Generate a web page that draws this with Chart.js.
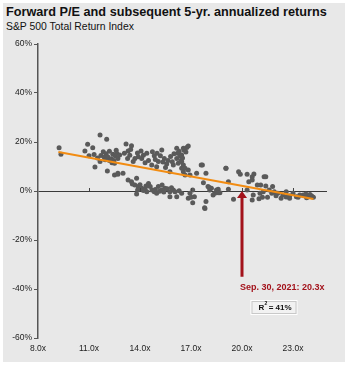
<!DOCTYPE html>
<html>
<head>
<meta charset="utf-8">
<script src="https://cdn.jsdelivr.net/npm/chart.js@4"></script>
<style>
    html, body { margin: 0; padding: 0; background: #ffffff; }
    #wrap { position: relative; width: 350px; height: 368px; }
    #panel { position: absolute; left: 3px; top: 3px; width: 342px; height: 359px; background: #e8e8e8; }
    #title { position: absolute; left: 6px; top: 5px; font: bold 12.7px "Liberation Sans", Arial, sans-serif; color: #111; white-space: nowrap; }
    #subtitle { position: absolute; left: 6px; top: 21px; font: 10.4px "Liberation Sans", Arial, sans-serif; color: #111; white-space: nowrap; }
    #chart { position: absolute; left: 0; top: 0; }
</style>
</head>
<body>
<div id="wrap">
    <div id="panel"></div>
    <div id="title">Forward P/E and subsequent 5-yr. annualized returns</div>
    <div id="subtitle">S&amp;P 500 Total Return Index</div>
    <canvas id="chart" width="350" height="368"></canvas>
</div>
<script>
// forward P/E (x) and subsequent 5-yr annualized return in % (y)
const forwardPE = [
    9.24, 9.35, 10.76, 10.92, 11.0, 11.22, 11.35, 11.65, 11.65, 11.84, 12.04, 12.08, 12.5, 12.7, 11.7, 11.9, 12.0, 12.1, 12.2, 12.3,
    12.4, 12.45, 12.55, 12.6, 11.5, 11.3, 12.35, 12.2, 11.95, 12.5, 12.7, 12.63, 12.8, 12.7, 13.0,
    13.18, 13.5, 13.3, 13.08, 13.27, 14.06, 13.9, 14.1, 13.7, 14.4, 14.73, 14.84, 14.69, 14.98, 15.28, 15.43, 15.57, 15.08, 16.16, 16.22,
    16.16, 16.25, 15.96, 16.45, 15.76, 16.55, 13.4, 13.6, 13.85, 14.2, 14.5, 14.9, 15.2, 15.35, 15.65, 15.8, 15.9, 16.0, 16.35, 13.45,
    14.3, 15.0, 16.4, 16.3, 15.5,
    16.75, 16.55, 16.84, 16.45, 16.45, 16.55, 16.65, 16.84, 16.94, 16.65, 17.33, 17.67, 17.88, 17.73, 16.6, 16.7, 16.5,
    13.3, 13.5, 13.8, 13.7, 13.9, 13.86, 13.8, 14.1, 14.3, 14.4, 14.5, 14.6, 14.7, 14.84, 14.98, 15.08, 15.28, 15.47, 15.76, 15.96,
    15.76, 16.16, 16.06, 13.55, 14.0, 14.2, 14.9, 15.15, 15.4, 15.6, 15.85, 16.3, 16.45, 14.35, 15.3,
    18.0, 18.1, 18.2, 17.1, 16.94, 16.84, 17.1, 17.2, 17.88, 17.82, 18.4, 18.5, 18.6, 18.7, 18.3, 19.06, 19.2, 19.2, 19.5, 19.8,
    19.9, 20.3, 20.4, 20.3, 20.6, 20.7, 20.6, 21.3, 21.4, 20.9, 21.1, 21.4, 21.8, 21.6, 21.25, 20.66, 20.6, 21.06, 21.2, 21.5,
    21.75, 21.9, 22.1, 22.3, 22.4, 22.6, 22.8, 22.8, 23.0, 23.2, 23.4, 23.6, 23.76, 23.9, 24.1, 24.2, 17.8, 17.6, 19.05, 18.06,
    18.6, 17.0, 22.6, 23.3, 23.8, 24.0, 22.0, 21.0
];
const fwdReturns = [
    17.7, 15.0, 16.3, 19.1, 14.4, 17.7, 9.8, 22.9, 12.0, 16.0, 21.1, 8.2, 6.5, 6.8, 14.5, 13.8, 15.2, 14.0, 16.2, 13.2,
    15.0, 12.5, 14.3, 16.6, 13.5, 14.9, 11.5, 12.4, 12.8, 11.3, 13.3, 15.4, 14.7, 7.2, 7.2,
    19.2, 18.5, 16.3, 15.4, 13.3, 16.3, 14.0, 13.3, 13.3, 15.4, 16.0, 14.4, 10.6, 9.9, 16.7, 13.3, 11.0, 12.0, 17.4, 15.4,
    13.3, 11.3, 10.6, 9.3, 7.9, 7.9, 14.6, 12.0, 15.5, 14.6, 12.4, 12.9, 14.4, 11.8, 12.4, 14.1, 11.9, 15.2, 14.2, 16.9,
    11.5, 15.4, 12.2, 16.2, 9.6,
    17.8, 17.4, 18.4, 14.7, 12.0, 10.6, 9.3, 8.6, 6.5, 6.5, 7.2, 10.6, 7.2, 3.4, 16.6, 15.9, 13.5,
    4.5, 3.8, 5.2, 2.4, 1.8, 0.4, -1.2, 1.1, 0.8, -0.3, 3.1, 1.8, 0.4, -0.3, -0.9, 1.8, 0.4, 1.1, -0.3, 0.4,
    -2.3, -2.3, -0.3, 2.9, 2.6, 0.2, 0.6, -0.1, -0.4, 0.9, 1.3, 0.1, -0.9, 2.0, 2.4,
    1.8, 0.4, 1.1, 0.4, -0.9, -3.0, -4.8, -2.3, -4.3, -7.1, -0.9, 0.4, 0.7, -0.7, -1.6, 9.3, 3.8, 0.7, -3.4, 7.9,
    6.8, 6.8, 3.8, 0.4, 5.8, 6.9, 4.5, 5.8, 5.8, 2.4, 2.4, 2.0, 1.8, 0.4, -0.3, -1.6, -3.7, -0.9, -2.6, -2.6,
    -0.9, -0.3, -0.9, -3.0, -1.6, -0.3, -3.0, -2.0, -0.9, -2.3, -1.6, -1.6, -1.2, -2.3, -2.0, -2.6, -6.8, 10.6, 9.3, 1.5,
    -0.7, -2.6, -2.4, -2.6, -2.8, -1.4, -1.9, -3.2
];

// regression line end points
const trendPE = [9.2, 24.2];
const trendReturn = [15.9, -3.3];

const xTicks = [8, 11, 14, 17, 20, 23];
const yTicks = [-60, -40, -20, 0, 20, 40, 60];

// current valuation marker
const currentPE = 20.0;
const arrowBottom = -35;
const currentLabel = "Sep. 30, 2021: 20.3x";
const rSquared = "41%";

const points = forwardPE.map((x, i) => ({ x, y: fwdReturns[i] }));
const trend = trendPE.map((x, i) => ({ x, y: trendReturn[i] }));

const annotations = {
    id: "annotations",
    afterDatasetsDraw(chart) {
        const { ctx, scales } = chart;
        const xs = scales.x;
        const ys = scales.y;
        ctx.save();

        // small x tick marks on the zero line
        const y0 = ys.getPixelForValue(0);
        ctx.strokeStyle = "#444";
        ctx.lineWidth = 1;
        xTicks.slice(1).forEach((t) => {
            const px = Math.round(xs.getPixelForValue(t)) + 0.5;
            ctx.beginPath();
            ctx.moveTo(px, y0 - 3);
            ctx.lineTo(px, y0);
            ctx.stroke();
        });

        // arrow
        const ax = xs.getPixelForValue(currentPE);
        const top = ys.getPixelForValue(0);
        const bottom = ys.getPixelForValue(arrowBottom);
        ctx.strokeStyle = "#a3121b";
        ctx.fillStyle = "#a3121b";
        ctx.lineWidth = 3;
        ctx.beginPath();
        ctx.moveTo(ax, bottom);
        ctx.lineTo(ax, top + 6);
        ctx.stroke();
        ctx.beginPath();
        ctx.moveTo(ax, top);
        ctx.lineTo(ax - 5, top + 7);
        ctx.lineTo(ax + 5, top + 7);
        ctx.closePath();
        ctx.fill();

        // label
        ctx.font = "bold 9px 'Liberation Sans', Arial, sans-serif";
        ctx.textBaseline = "middle";
        ctx.textAlign = "left";
        ctx.fillText(currentLabel, ax - 2, ys.getPixelForValue(-39.3));

        // R squared box
        const bx = xs.getPixelForValue(20.5);
        const by = ys.getPixelForValue(-44.5);
        ctx.fillStyle = "#f2f2f2";
        ctx.fillRect(bx, by, 46, 14);
        ctx.strokeStyle = "#ffffff";
        ctx.lineWidth = 1;
        ctx.strokeRect(bx + 0.5, by + 0.5, 46, 14);
        ctx.strokeStyle = "#c8c8c8";
        ctx.strokeRect(bx + 1.5, by + 1.5, 44, 12);
        ctx.fillStyle = "#111";
        ctx.font = "bold 8px 'Liberation Sans', Arial, sans-serif";
        ctx.fillText("R", bx + 8, by + 7.5);
        ctx.font = "bold 5px 'Liberation Sans', Arial, sans-serif";
        ctx.fillText("2", bx + 14, by + 4);
        ctx.font = "bold 8px 'Liberation Sans', Arial, sans-serif";
        ctx.fillText(" = " + rSquared, bx + 16, by + 7.5);

        ctx.restore();
    },
};

new Chart(document.getElementById("chart"), {
    type: "scatter",
    data: {
        datasets: [
            {
                type: "line",
                data: trend,
                borderColor: "#f28c12",
                borderWidth: 2,
                pointRadius: 0,
                fill: false,
                order: 0,
            },
            {
                data: points,
                backgroundColor: "#5a5a5a",
                borderWidth: 0,
                pointRadius: 2.5,
                order: 1,
            },
        ],
    },
    options: {
        responsive: false,
        animation: false,
        events: [],
        layout: { padding: { top: 44, right: 23, left: 0, bottom: 0 } },
        plugins: { legend: { display: false }, tooltip: { enabled: false } },
        scales: {
            x: {
                type: "linear",
                min: 8,
                max: 25,
                afterBuildTicks: (scale) => { scale.ticks = xTicks.map((v) => ({ value: v })); },
                afterFit: (scale) => { scale.height = 30; },
                grid: { display: false, drawTicks: false },
                border: { display: false },
                ticks: {
                    padding: 6,
                    color: "#222",
                    font: { family: "'Liberation Sans', Arial, sans-serif", size: 8.5 },
                    callback: (v) => v.toFixed(1) + "x",
                },
            },
            y: {
                type: "linear",
                min: -60,
                max: 60,
                afterBuildTicks: (scale) => { scale.ticks = yTicks.map((v) => ({ value: v })); },
                afterFit: (scale) => { scale.width = 38; },
                grid: {
                    drawOnChartArea: true,
                    color: (c) => (c.tick && c.tick.value === 0 ? "#3a3a3a" : "rgba(0,0,0,0)"),
                    tickColor: "#555",
                    tickLength: 4,
                    lineWidth: 1,
                },
                border: { display: true, color: "#555", width: 1.5 },
                ticks: {
                    padding: 2,
                    color: "#222",
                    font: { family: "'Liberation Sans', Arial, sans-serif", size: 8.5 },
                    callback: (v) => v + "%",
                },
            },
        },
    },
    plugins: [annotations],
});
</script>
</body>
</html>
